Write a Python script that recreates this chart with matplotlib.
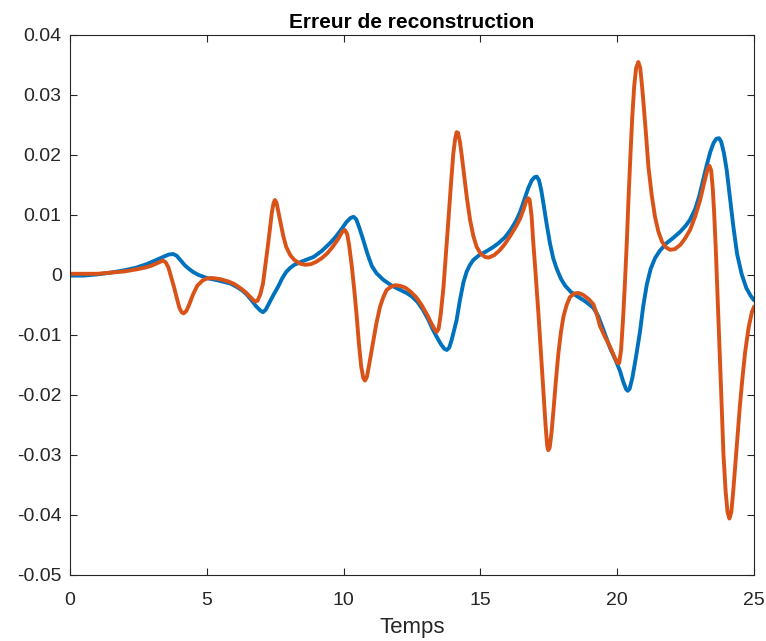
import matplotlib as mpl
mpl.use('Agg')
import matplotlib.pyplot as plt

# courbe bleue
t_blue = [0, 0.5, 1.0, 1.5, 2.0, 2.4, 2.8, 3.1, 3.4, 3.6, 3.77, 3.9, 4.05, 4.2, 4.35, 4.5,
          4.7, 5.0, 5.4, 5.85, 6.1, 6.3, 6.47, 6.65, 6.8, 6.95, 7.05, 7.15, 7.3, 7.45, 7.6,
          7.75, 7.9, 8.05, 8.2, 8.5, 8.9, 9.2, 9.5, 9.7, 9.9, 10.1, 10.25, 10.36, 10.46,
          10.58, 10.72, 10.88, 11.03, 11.2, 11.45, 11.7, 11.94, 12.3, 12.5, 12.7, 12.9,
          13.1, 13.25, 13.4, 13.55, 13.68, 13.77, 13.86, 13.95, 14.05, 14.13, 14.25, 14.38,
          14.5, 14.62, 14.74, 14.95, 15.2, 15.45, 15.66, 15.9, 16.1, 16.3, 16.45, 16.6,
          16.75, 16.88, 16.98, 17.06, 17.14, 17.22, 17.3, 17.42, 17.54, 17.66, 17.79, 17.95,
          18.1, 18.3, 18.52, 18.8, 19.0, 19.13, 19.3, 19.5, 19.74, 19.95, 20.1, 20.22,
          20.32, 20.38, 20.45, 20.55, 20.68, 20.83, 20.95, 21.08, 21.22, 21.38, 21.55, 21.8,
          22.05, 22.3, 22.5, 22.66, 22.85, 23.0, 23.15, 23.27, 23.4, 23.52, 23.62, 23.72,
          23.8, 23.9, 24.0, 24.12, 24.24, 24.38, 24.55, 24.72, 24.88, 25.0]
err_blue = [-0.0001, -0.0001, 0.0001, 0.0004, 0.0008, 0.0012, 0.0018, 0.0024, 0.003, 0.0034,
            0.0035, 0.0032, 0.0024, 0.0016, 0.001, 0.0005, 0.0, -0.0005, -0.0009, -0.0014,
            -0.002, -0.0026, -0.0033, -0.0043, -0.0052, -0.0059, -0.0062, -0.0058, -0.0045,
            -0.0032, -0.002, -0.0006, 0.0005, 0.0012, 0.0017, 0.0023, 0.003, 0.004, 0.0053,
            0.0063, 0.0075, 0.0088, 0.0095, 0.0097, 0.0093, 0.0078, 0.0058, 0.0034, 0.0015,
            0.0003, -0.0008, -0.0016, -0.0022, -0.003, -0.0036, -0.0045, -0.0058, -0.0075,
            -0.009, -0.0103, -0.0115, -0.0123, -0.0125, -0.0121, -0.0108, -0.009, -0.0075,
            -0.0042, -0.0012, 0.0006, 0.0017, 0.0025, 0.0033, 0.0039, 0.0046, 0.0053, 0.0063,
            0.0075, 0.009, 0.0105, 0.0125, 0.0145, 0.0158, 0.0163, 0.0164, 0.0158, 0.0142,
            0.012, 0.0085, 0.0053, 0.0028, 0.001, -0.0007, -0.0018, -0.0028, -0.0035, -0.0043,
            -0.005, -0.0055, -0.0068, -0.0092, -0.0122, -0.0143, -0.016, -0.0178, -0.019,
            -0.0193, -0.019, -0.0172, -0.0138, -0.0095, -0.0052, -0.0016, 0.001, 0.0028,
            0.004, 0.0053, 0.0062, 0.0072, 0.0082, 0.0092, 0.011, 0.0132, 0.016, 0.0183,
            0.0205, 0.022, 0.0227, 0.0228, 0.0222, 0.0203, 0.0175, 0.0128, 0.0082, 0.0035,
            0.0001, -0.0022, -0.0035, -0.0042]

# courbe orange
t_orange = [0, 0.5, 1.0, 1.5, 2.0, 2.5, 2.8, 3.0, 3.2, 3.4, 3.5, 3.6, 3.7, 3.8, 3.9, 4.0,
            4.08, 4.15, 4.25, 4.35, 4.5, 4.65, 4.85, 5.0, 5.2, 5.5, 5.8, 6.0, 6.2, 6.4, 6.6,
            6.75, 6.85, 6.95, 7.05, 7.15, 7.23, 7.31, 7.38, 7.44, 7.49, 7.55, 7.62, 7.7, 7.8,
            7.9, 8.05, 8.2, 8.4, 8.6, 8.8, 9.0, 9.2, 9.4, 9.6, 9.8, 9.95, 10.05, 10.13, 10.2,
            10.3, 10.4, 10.48, 10.56, 10.64, 10.72, 10.78, 10.85, 10.95, 11.09, 11.2, 11.33,
            11.45, 11.57, 11.72, 11.88, 12.05, 12.25, 12.45, 12.65, 12.85, 13.05, 13.2, 13.32,
            13.4, 13.47, 13.55, 13.65, 13.74, 13.83, 13.92, 14.01, 14.08, 14.13, 14.18, 14.25,
            14.32, 14.38, 14.5, 14.62, 14.74, 14.86, 15.0, 15.17, 15.3, 15.5, 15.7, 15.9,
            16.1, 16.3, 16.45, 16.58, 16.68, 16.75, 16.8, 16.87, 16.93, 17.02, 17.12, 17.21,
            17.3, 17.38, 17.44, 17.48, 17.53, 17.6, 17.67, 17.76, 17.85, 17.94, 18.03, 18.15,
            18.27, 18.42, 18.58, 18.75, 18.95, 19.13, 19.25, 19.37, 19.55, 19.74, 19.9, 20.0,
            20.07, 20.14, 20.21, 20.28, 20.35, 20.41, 20.48, 20.55, 20.62, 20.69, 20.77,
            20.84, 20.9, 20.95, 21.05, 21.14, 21.26, 21.38, 21.5, 21.63, 21.78, 21.93, 22.1,
            22.3, 22.48, 22.66, 22.85, 23.03, 23.2, 23.3, 23.37, 23.43, 23.49, 23.54, 23.6,
            23.65, 23.7, 23.79, 23.88, 23.96, 24.03, 24.1, 24.17, 24.24, 24.3, 24.4, 24.49,
            24.58, 24.67, 24.8, 24.92, 25.0]
err_orange = [0.0002, 0.0002, 0.0002, 0.0004, 0.0006, 0.001, 0.0013, 0.0016, 0.002, 0.0024,
              0.0021, 0.0012, -0.0004, -0.002, -0.0038, -0.0055, -0.0062, -0.0064, -0.006,
              -0.005, -0.0032, -0.0018, -0.0009, -0.0006, -0.0005, -0.0007, -0.0011, -0.0015,
              -0.0021, -0.0028, -0.0037, -0.0044, -0.0043, -0.0033, -0.0015, 0.002, 0.0048,
              0.0078, 0.0105, 0.012, 0.0125, 0.012, 0.0104, 0.0086, 0.0064, 0.0047, 0.0033,
              0.0025, 0.0019, 0.0017, 0.0018, 0.0022, 0.0028, 0.0036, 0.0047, 0.006, 0.0072,
              0.0075, 0.0068, 0.005, 0.0014, -0.003, -0.007, -0.0115, -0.0152, -0.0172,
              -0.0176, -0.017, -0.0145, -0.0108, -0.008, -0.0053, -0.0037, -0.0025, -0.002,
              -0.0017, -0.0018, -0.0021, -0.0028, -0.0037, -0.005, -0.0066, -0.008, -0.009,
              -0.0095, -0.009, -0.0065, -0.002, 0.0035, 0.0092, 0.015, 0.0203, 0.0228, 0.0238,
              0.0237, 0.0222, 0.0198, 0.0175, 0.013, 0.0092, 0.0065, 0.0047, 0.0036, 0.003,
              0.0029, 0.0033, 0.0041, 0.0052, 0.0066, 0.0081, 0.0094, 0.011, 0.0124, 0.0128,
              0.0125, 0.0098, 0.0055, 0.0, -0.0065, -0.013, -0.0197, -0.025, -0.0285, -0.0292,
              -0.0288, -0.0262, -0.0225, -0.0175, -0.013, -0.0096, -0.007, -0.005, -0.0037,
              -0.0031, -0.003, -0.0033, -0.004, -0.0049, -0.0065, -0.0085, -0.0103, -0.012,
              -0.0137, -0.0146, -0.0147, -0.0125, -0.0075, -0.0014, 0.0055, 0.0125, 0.0198,
              0.0264, 0.0315, 0.0345, 0.0355, 0.0345, 0.0318, 0.0292, 0.0235, 0.018, 0.0133,
              0.0097, 0.0073, 0.0056, 0.0046, 0.0042, 0.0043, 0.005, 0.0061, 0.0075, 0.0098,
              0.0125, 0.0158, 0.0176, 0.0182, 0.0175, 0.0145, 0.0105, 0.0045, -0.0015, -0.0075,
              -0.0185, -0.0297, -0.036, -0.0395, -0.0406, -0.0395, -0.036, -0.0325, -0.0265,
              -0.0214, -0.017, -0.013, -0.0088, -0.0062, -0.0053]

y_ticks = [-0.05, -0.04, -0.03, -0.02, -0.01, 0, 0.01, 0.02, 0.03, 0.04]
y_labels = ['-0.05', '-0.04', '-0.03', '-0.02', '-0.01', '0', '0.01', '0.02', '0.03', '0.04']
x_ticks = [0, 5, 10, 15, 20, 25]

plt.rcParams['font.family'] = ['Liberation Sans', 'DejaVu Sans']
grey = '#262626'

fig = plt.figure(figsize=(7.66, 6.41), dpi=100)
ax = fig.add_axes([0.0914, 0.103, 0.893, 0.8424])
ax.plot(t_blue, err_blue, color='#0072BD', linewidth=2.8,
        solid_joinstyle='round', solid_capstyle='round')
ax.plot(t_orange, err_orange, color='#D95319', linewidth=2.8,
        solid_joinstyle='round', solid_capstyle='round')

ax.set_xlim(0, 25)
ax.set_ylim(-0.05, 0.04)
ax.set_xticks(x_ticks)
ax.set_yticks(y_ticks)
ax.set_yticklabels(y_labels)
ax.tick_params(direction='in', length=5, width=0.8, colors=grey, labelsize=14,
               top=True, right=True, pad=6)
ax.tick_params(axis='x', pad=12)
for s in ax.spines.values():
    s.set_color(grey)
    s.set_linewidth(0.8)

ax.set_title('Erreur de reconstruction', fontsize=15, fontweight='bold', color='black', pad=5)
ax.set_xlabel('Temps', fontsize=16, color=grey, labelpad=6)

fig.savefig('out.png', dpi=100)
